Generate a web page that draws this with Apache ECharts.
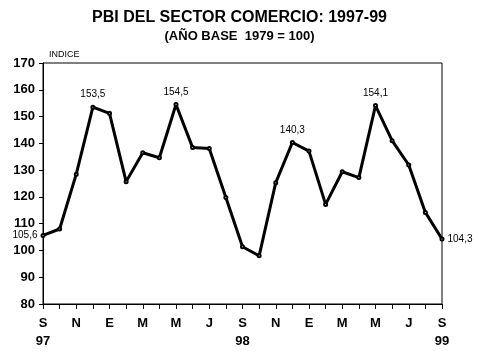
<!DOCTYPE html>
<html>
<head>
<meta charset="utf-8">
<script src="https://cdn.jsdelivr.net/npm/echarts@6/dist/echarts.min.js"></script>
<style>
html,body{margin:0;padding:0;background:#fff;}
#c{width:479px;height:359px;}
</style>
</head>
<body>
<div id="c"></div>
<script>
var months = ["S","O","N","D","E","F","M","A","M","J","J","A","S","O","N","D","E","F","M","A","M","J","J","A","S"];
var years = {0:"97",12:"98",24:"99"};
var values = [105.6,108.0,128.5,153.5,151.2,125.7,136.5,134.6,154.5,138.4,138.1,119.8,101.4,98.0,125.3,140.3,137.1,117.2,129.4,127.2,154.1,141.0,131.9,114.2,104.3];
var labeledIdx = [0,3,8,15,20,24];
var yTicks = [80,90,100,110,120,130,140,150,160,170];

var chart = echarts.init(document.getElementById('c'), null, {renderer:'canvas'});
var fmt = function(v){ return v.toFixed(1).replace('.', ','); };
var data = values.map(function(v,i){
  var d = {value:v};
  if (labeledIdx.indexOf(i) >= 0) {
    var pos = i === 0 ? 'left' : (i === values.length-1 ? 'right' : 'top');
    d.label = {show:true, position:pos, distance: pos==='top'?5:3, formatter: fmt(v),
      fontFamily:'Liberation Sans, Arial', fontSize:10, color:'#000'};
  }
  return d;
});
chart.setOption({
  animation:false,
  backgroundColor:'#fff',
  title:[
    {text:'PBI DEL SECTOR COMERCIO: 1997-99', left:'center', top:10, padding:0,
     textStyle:{fontFamily:'Liberation Sans, Arial', fontWeight:'bold', fontSize:16, color:'#000'}},
    {text:'(AÑO BASE  1979 = 100)', left:'center', top:30, padding:0,
     textStyle:{fontFamily:'Liberation Sans, Arial', fontWeight:'bold', fontSize:13, color:'#000'}},
    {text:'INDICE', left:49, top:50, padding:0,
     textStyle:{fontFamily:'Liberation Sans, Arial', fontWeight:'normal', fontSize:9, color:'#000'}}
  ],
  grid:{left:43, right:37, top:63, bottom:55, show:true, borderColor:'#000', borderWidth:1, backgroundColor:'transparent'},
  xAxis:{
    type:'category', data:months, boundaryGap:false,
    axisLine:{lineStyle:{color:'#000', width:1}},
    axisTick:{show:true, interval:0, length:5, lineStyle:{color:'#000'}},
    axisLabel:{interval:1, margin:10, color:'#000', fontFamily:'Liberation Sans, Arial', fontWeight:'bold', fontSize:13, lineHeight:18,
      formatter:function(v,i){ return years[i] ? v + '\n' + years[i] : v; }},
    splitLine:{show:false}
  },
  yAxis:{
    type:'value', min:yTicks[0], max:yTicks[yTicks.length-1], interval:10,
    axisLine:{show:true, lineStyle:{color:'#000', width:1}},
    axisTick:{show:true, length:4, lineStyle:{color:'#000'}},
    axisLabel:{margin:8, color:'#000', fontFamily:'Liberation Sans, Arial', fontWeight:'bold', fontSize:13},
    splitLine:{show:false}
  },
  series:[{
    type:'line', data:data,
    lineStyle:{color:'#000', width:3},
    itemStyle:{color:'#000', borderWidth:1},
    symbol:'emptyCircle', symbolSize:3, showAllSymbol:true
  }]
});
</script>
</body>
</html>
